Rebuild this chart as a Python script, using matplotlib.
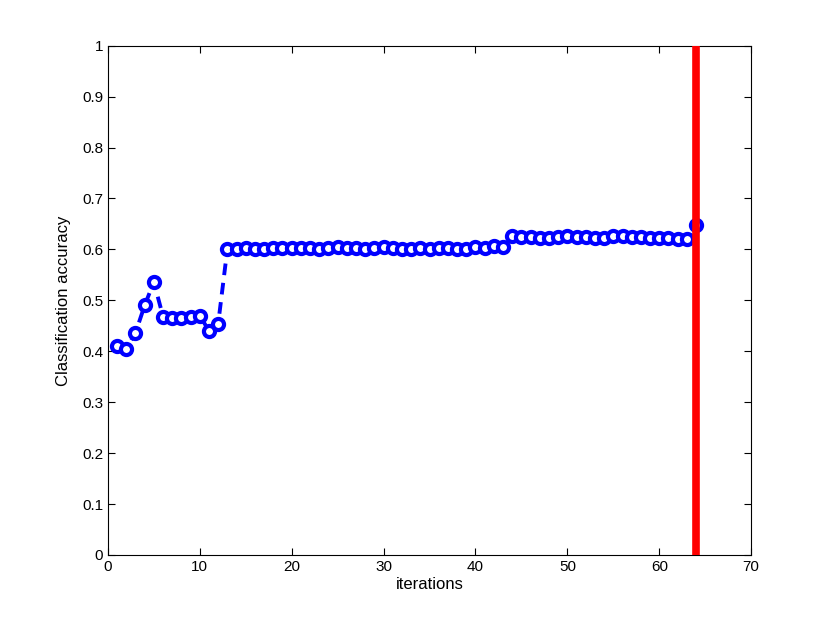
import matplotlib.pyplot as plt

plt.rcParams['font.family'] = ['Liberation Sans', 'DejaVu Sans']

iterations = list(range(1, 65))
accuracy = [
    0.410, 0.405, 0.436, 0.490, 0.536, 0.468, 0.465, 0.465, 0.468, 0.470,
    0.440, 0.454, 0.601, 0.601, 0.603, 0.601, 0.601, 0.602, 0.602, 0.602,
    0.603, 0.602, 0.601, 0.603, 0.604, 0.602, 0.602, 0.601, 0.602, 0.604,
    0.602, 0.601, 0.601, 0.603, 0.601, 0.602, 0.602, 0.600, 0.601, 0.605,
    0.603, 0.606, 0.605, 0.626, 0.624, 0.624, 0.623, 0.623, 0.625, 0.627,
    0.625, 0.624, 0.623, 0.622, 0.627, 0.626, 0.624, 0.624, 0.623, 0.623,
    0.622, 0.621, 0.621, 0.648,
]
stop_x = [64, 64]
stop_y = [0, 1]

fig = plt.figure(figsize=(8.3, 6.25), dpi=100)
ax = fig.add_axes([0.130, 0.112, 0.775, 0.815])

ax.plot(stop_x, stop_y, color='red', lw=5.5, solid_capstyle='round', zorder=3)
ax.plot(iterations, accuracy, '--', color='blue', lw=2.8, dashes=(3, 2),
        marker='o', markersize=8, markerfacecolor='white',
        markeredgecolor='blue', markeredgewidth=3, zorder=2)

ax.set_xlim(0, 70)
ax.set_ylim(0, 1)
ax.set_xticks(range(0, 71, 10))
ax.set_yticks([i / 10 for i in range(11)])
ax.set_yticklabels(['0', '0.1', '0.2', '0.3', '0.4', '0.5', '0.6', '0.7', '0.8', '0.9', '1'])
ax.tick_params(direction='in', top=True, right=True, labelsize=11, length=5)
ax.set_xlabel('iterations', fontsize=12, labelpad=2)
ax.set_ylabel('Classification accuracy', fontsize=12, labelpad=8)

plt.savefig('out.png')
plt.close()
